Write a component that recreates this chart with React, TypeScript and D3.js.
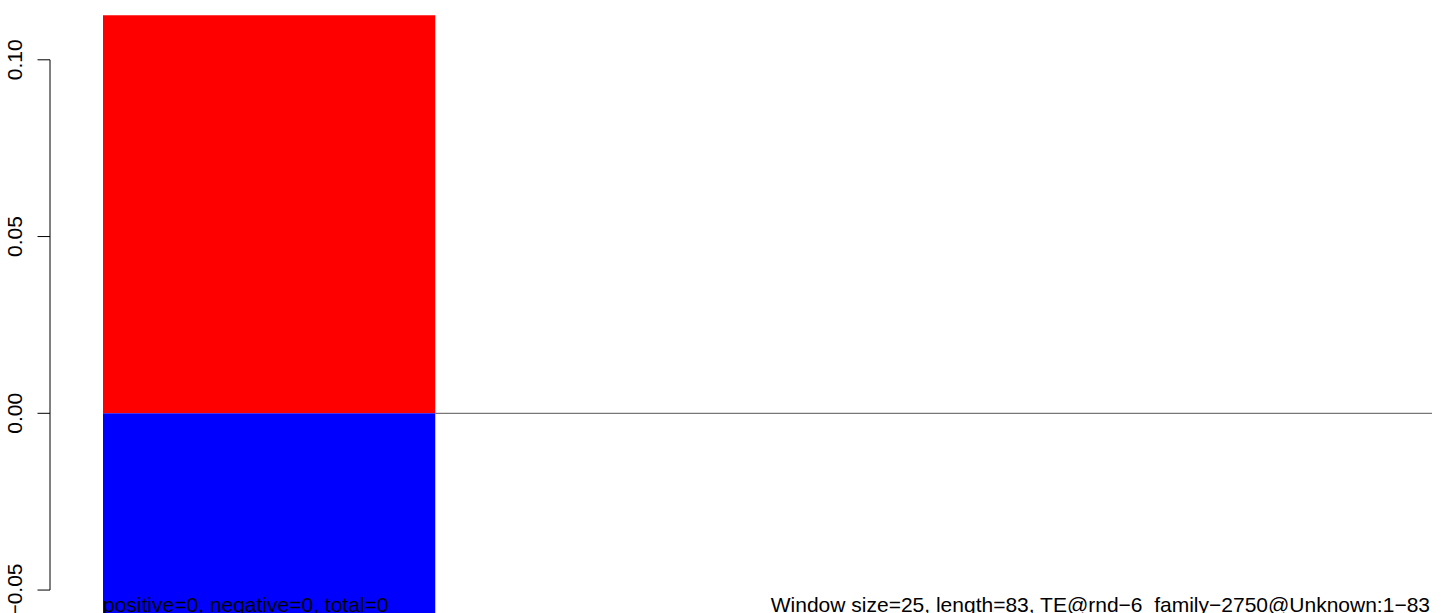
import React from "react";
import * as d3 from "d3";

const W = 1444;
const H = 613;

// Data
const windowStart = [0];
const windowEnd = [25];
const positiveValues = [0.1126];
const negativeValues = [-0.1126];
const yTicks = [-0.05, 0.0, 0.05, 0.1];
const xDomain = [0, 100];
const summaryLabel = "positive=0, negative=0, total=0";
const titleLabel = "Window size=25, length=83, TE@rnd\u22126_family\u22122750@Unknown:1\u221283";

export default function App() {
  const x = d3.scaleLinear().domain(xDomain).range([103, 1432]);
  const y = d3.scaleLinear().domain([0, 0.1]).range([413.3, 59.8]);
  const font = "'Liberation Sans', Arial, Helvetica, sans-serif";
  const fs = 21;
  return (
    <svg
      width={W}
      height={H}
      style={{ position: "absolute", left: 0, top: 0, background: "#fff" }}
      fontFamily={font}
    >
      <defs>
        <clipPath id="clip">
          <rect x={0} y={15} width={W} height={H - 15} />
        </clipPath>
      </defs>
      <g clipPath="url(#clip)">
        {windowStart.map((s, i) => (
          <rect
            key={"p" + i}
            x={x(s)}
            y={y(positiveValues[i])}
            width={x(windowEnd[i]) - x(s)}
            height={y(0) - y(positiveValues[i])}
            fill="#ff0000"
          />
        ))}
        {windowStart.map((s, i) => (
          <rect
            key={"n" + i}
            x={x(s)}
            y={y(0)}
            width={x(windowEnd[i]) - x(s)}
            height={y(negativeValues[i]) - y(0)}
            fill="#0000ff"
          />
        ))}
      </g>
      <line
        x1={x(windowEnd[0])}
        x2={x(xDomain[1])}
        y1={y(0)}
        y2={y(0)}
        stroke="#555"
        strokeWidth={1}
      />
      {/* y axis */}
      <line
        x1={50}
        x2={50}
        y1={y(yTicks[0])}
        y2={y(yTicks[yTicks.length - 1])}
        stroke="#000"
        strokeWidth={1}
      />
      {yTicks.map((t) => (
        <g key={t}>
          <line x1={37.5} x2={50} y1={y(t)} y2={y(t)} stroke="#000" strokeWidth={1} />
          <text
            transform={`translate(21.5,${y(t)}) rotate(-90)`}
            textAnchor="middle"
            fontSize={fs}
            fill="#000"
          >
            {d3.format(".2f")(t).replace("-", "\u2212")}
          </text>
        </g>
      ))}
      <text x={x(windowStart[0])} y={611.5} fontSize={fs} fill="#000">
        {summaryLabel}
      </text>
      <text x={1430} y={611.5} fontSize={fs} textAnchor="end" fill="#000">
        {titleLabel}
      </text>
    </svg>
  );
}
